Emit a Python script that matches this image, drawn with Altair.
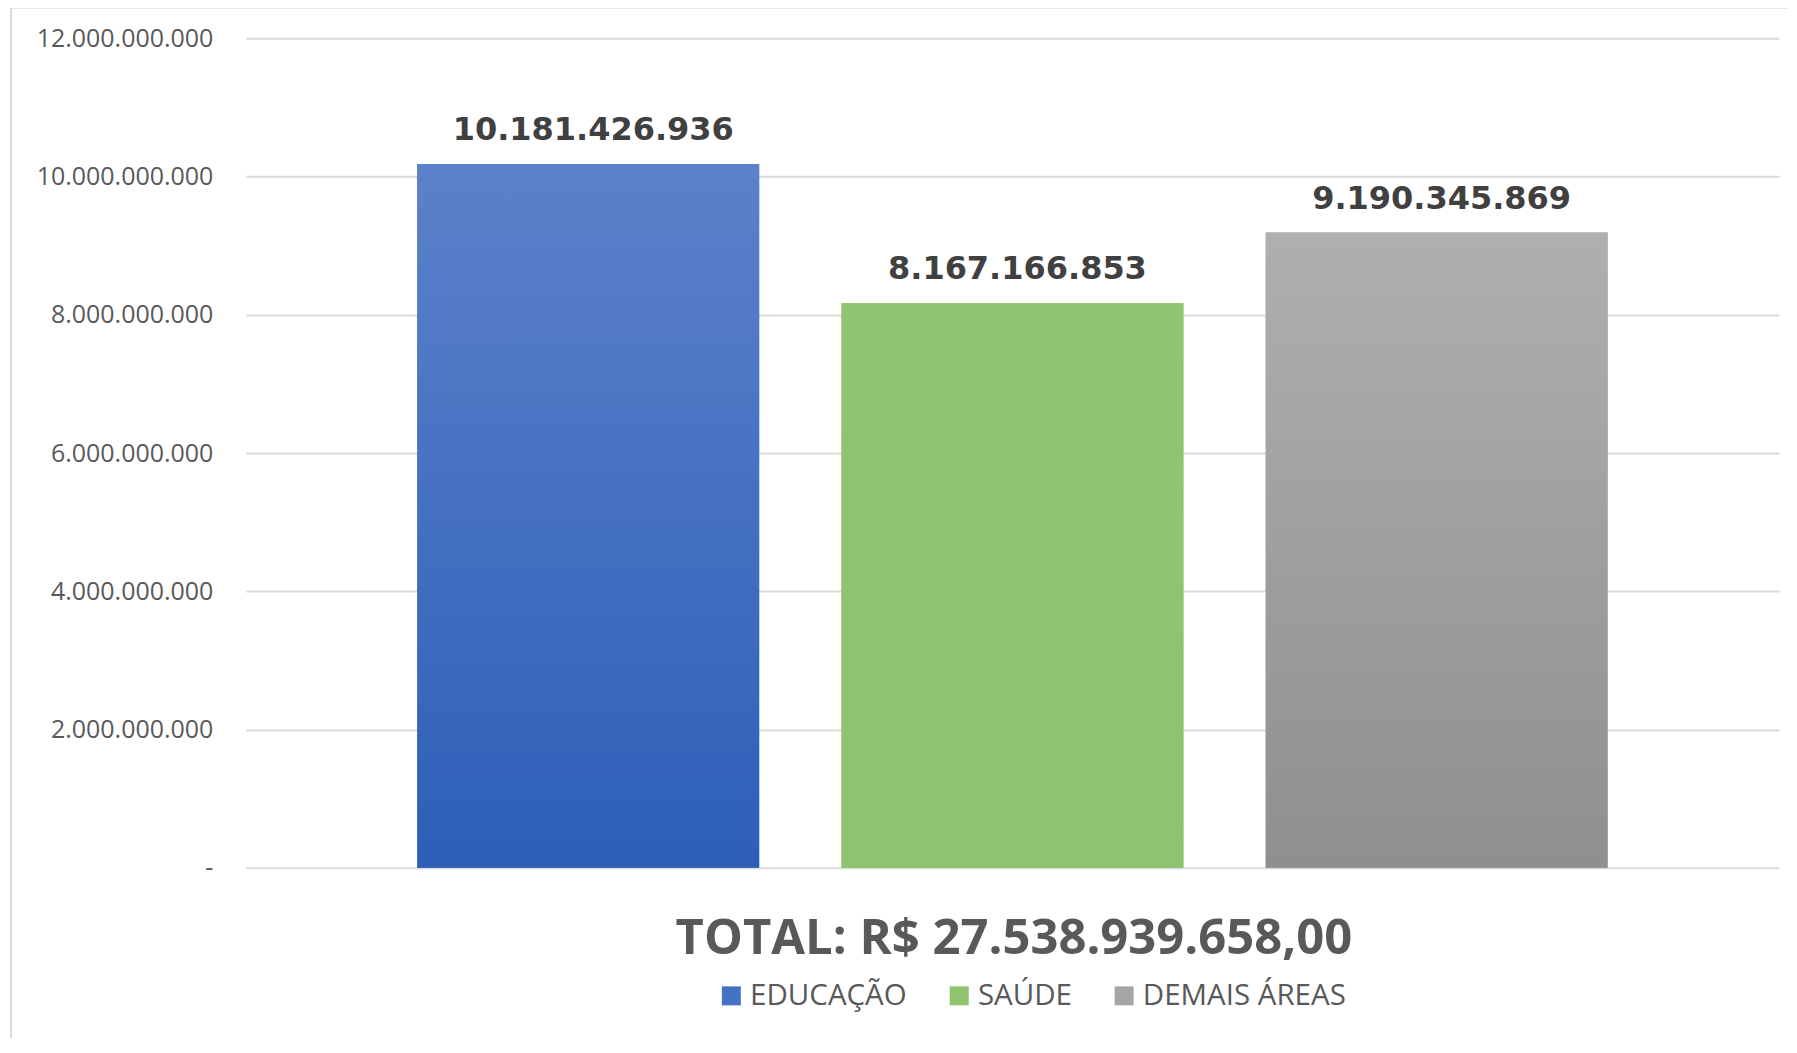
import altair as alt
import pandas as pd

categories = ["EDUCAÇÃO", "SAÚDE", "DEMAIS ÁREAS"]
values = [10181426936, 8167166853, 9190345869]
y_ticks = [0, 2000000000, 4000000000, 6000000000, 8000000000, 10000000000, 12000000000]
total_label = "TOTAL: R$ 27.538.939.658,00"

legend_colors = ["#4472c4", "#8ec46f", "#a5a5a5"]
grad_top = ["#5c81ca", "#8fc570", "#afafaf"]
grad_bottom = ["#2d5fb8", "#8ec46f", "#8f8f8f"]

df = pd.DataFrame({"cat": categories, "value": values})

W, H = 1534, 830

x_enc = alt.X(
    "cat:N",
    sort=categories,
    scale=alt.Scale(paddingInner=0.194, paddingOuter=0.404),
    axis=alt.Axis(
        labels=False, ticks=False, domain=False, grid=False,
        title=total_label, titleFont="Open Sans", titleFontWeight="bold",
        titleFontSize=49, titleColor="#595959",
        titleBaseline="alphabetic", titleY=86, titleX=W / 2 + 1,
    ),
)
y_enc = alt.Y(
    "value:Q",
    scale=alt.Scale(domain=[0, 12000000000], nice=False),
    axis=alt.Axis(
        values=y_ticks, format=",.0f", title=None,
        labelExpr="datum.value == 0 ? '-\u00a0\u00a0' : datum.label",
        labelFont="Open Sans", labelFontSize=25, labelColor="#595959",
        labelPadding=33, domain=False, ticks=False,
        grid=True, gridColor="#d9d9d9", gridWidth=2,
    ),
)

base = alt.Chart(df)

legend_layer = base.mark_bar().encode(
    x=x_enc,
    y=y_enc,
    color=alt.Color(
        "cat:N",
        sort=categories,
        scale=alt.Scale(domain=categories, range=legend_colors),
        legend=alt.Legend(
            title=None, orient="none", direction="horizontal",
            legendX=471, legendY=943,
            symbolType="square", symbolSize=361, symbolStrokeWidth=0,
            labelFont="Open Sans", labelFontSize=29.5, labelColor="#595959",
            labelOffset=4, columnPadding=37, labelLimit=400,
        ),
    ),
)

grad_layers = []
for c, top, bot in zip(categories, grad_top, grad_bottom):
    grad_layers.append(
        base.transform_filter(alt.datum.cat == c)
        .mark_bar(
            color=alt.Gradient(
                gradient="linear",
                stops=[alt.GradientStop(color=top, offset=0), alt.GradientStop(color=bot, offset=1)],
                x1=0, x2=0, y1=0, y2=1,
            )
        )
        .encode(x=alt.X("cat:N", sort=categories), y="value:Q")
    )

labels = base.mark_text(
    font="DejaVu Sans", fontWeight="bold", fontSize=32, color="#404040",
    baseline="alphabetic", dy=-24, dx=5,
).encode(
    x=alt.X("cat:N", sort=categories),
    y="value:Q",
    text=alt.Text("value:Q", format=",.0f"),
)

border_top = base.mark_rule(color="#d9d9d9", strokeWidth=2).encode(
    x=alt.value(-235), x2=alt.value(W + 40), y=alt.value(-31)
)
border_left = base.mark_rule(color="#d9d9d9", strokeWidth=2).encode(
    x=alt.value(-235), y=alt.value(-31), y2=alt.value(H + 200)
)

chart = alt.layer(border_top, border_left, legend_layer, *grad_layers, labels).properties(
    width=W, height=H,
    autosize=alt.AutoSizeParams(type="none"),
    padding={"left": 238, "top": 30, "right": 10, "bottom": 170},
).configure(
    locale={"number": {"decimal": ",", "thousands": ".", "grouping": [3], "currency": ["R$ ", ""]}}
).configure_view(stroke="transparent", strokeWidth=0)

chart.save("out.html", embed_options={"renderer": "svg", "actions": False})
